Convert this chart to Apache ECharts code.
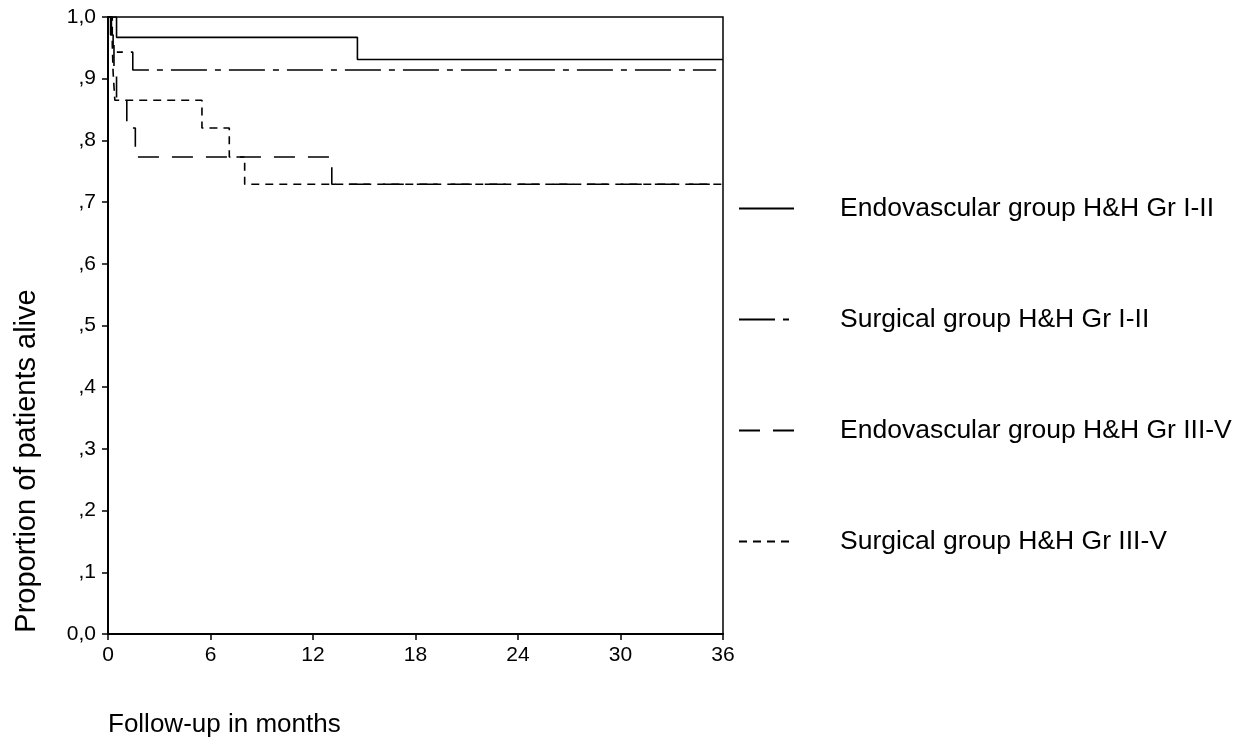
<!DOCTYPE html>
<html>
<head>
<meta charset="utf-8">
<script src="https://cdn.jsdelivr.net/npm/echarts@6/dist/echarts.min.js"></script>
<style>html,body{margin:0;padding:0;background:#fff}#c{width:1250px;height:744px}</style>
</head>
<body>
<div id="c"></div>
<script>
const seriesNames = ['Endovascular group H&H Gr I-II','Surgical group H&H Gr I-II','Endovascular group H&H Gr III-V','Surgical group H&H Gr III-V'];
const endoI_times = [0, 0.5, 14.6, 36];
const endoI_values = [1, 0.967, 0.931, 0.931];
const surgI_times = [0, 0.15, 0.3, 1.45, 35.6];
const surgI_values = [1, 0.971, 0.943, 0.914, 0.914];
const endoIII_times = [0, 0.2, 0.35, 0.5, 1.1, 1.6, 13.1, 36];
const endoIII_values = [1, 0.955, 0.91, 0.865, 0.82, 0.773, 0.729, 0.729];
const surgIII_times = [0, 0.25, 0.3, 0.4, 5.5, 7.1, 8.0, 36];
const surgIII_values = [1, 0.955, 0.91, 0.865, 0.82, 0.773, 0.729, 0.729];
const xTicks = [0, 6, 12, 18, 24, 30, 36];
const yTickLabels = ['0,0', ',1', ',2', ',3', ',4', ',5', ',6', ',7', ',8', ',9', '1,0'];
const xTitle = 'Follow-up in months';
const yTitle = 'Proportion of patients alive';

const zip = (t, v) => t.map((x, i) => [x, v[i]]);
const dashes = ['solid', [36, 8, 6, 8], [21, 13], [8, 6]];
const allData = [zip(endoI_times, endoI_values), zip(surgI_times, surgI_values), zip(endoIII_times, endoIII_values), zip(surgIII_times, surgIII_values)];
const FONT = 'Liberation Sans, Arial, sans-serif';

const chart = echarts.init(document.getElementById('c'), null, {renderer: 'canvas'});
chart.setOption({
  animation: false,
  backgroundColor: '#fff',
  grid: {left: 108, right: 527, top: 17, bottom: 110, show: true, borderColor: '#000', borderWidth: 1.5, backgroundColor: 'transparent'},
  xAxis: {
    type: 'value', min: 0, max: 36, interval: 6,
    axisLine: {lineStyle: {color: '#000', width: 2}},
    axisTick: {length: 6, lineStyle: {color: '#000', width: 1.5}},
    axisLabel: {color: '#000', fontSize: 21, fontFamily: FONT, margin: 11,
      formatter: v => xTicks.includes(v) ? String(v) : ''},
    splitLine: {show: false}
  },
  yAxis: {
    type: 'value', min: 0, max: 1, interval: 0.1,
    axisLine: {show: true, lineStyle: {color: '#000', width: 2}},
    axisTick: {show: true, length: 6, lineStyle: {color: '#000', width: 1.5}},
    axisLabel: {color: '#000', fontSize: 21, fontFamily: FONT, margin: 12,
      formatter: v => yTickLabels[Math.round(v * 10)]},
    splitLine: {show: false}
  },
  legend: {
    orient: 'vertical', left: 738, top: 195, itemGap: 84, padding: 0,
    itemWidth: 55, itemHeight: 14,
    data: seriesNames,
    itemStyle: {opacity: 0},
    textStyle: {color: '#000', fontSize: 26.5, fontFamily: FONT, padding: [0, 0, 0, 41]}
  },
  series: seriesNames.map((n, i) => ({
    name: n, type: 'line', step: 'end', data: allData[i],
    symbol: 'none', showSymbol: false,
    lineStyle: {color: '#000', width: 1.6, type: dashes[i]},
    itemStyle: {color: '#000'}
  })),
  graphic: [
    {type: 'text', left: 108, top: 712, style: {text: xTitle, fontSize: 26, fontFamily: FONT, fill: '#000'}},
    {type: 'text', x: 27, y: 461, rotation: Math.PI / 2,
      style: {text: yTitle, fontSize: 29, fontFamily: FONT, fill: '#000', align: 'center', verticalAlign: 'middle'}}
  ]
});
</script>
</body>
</html>
